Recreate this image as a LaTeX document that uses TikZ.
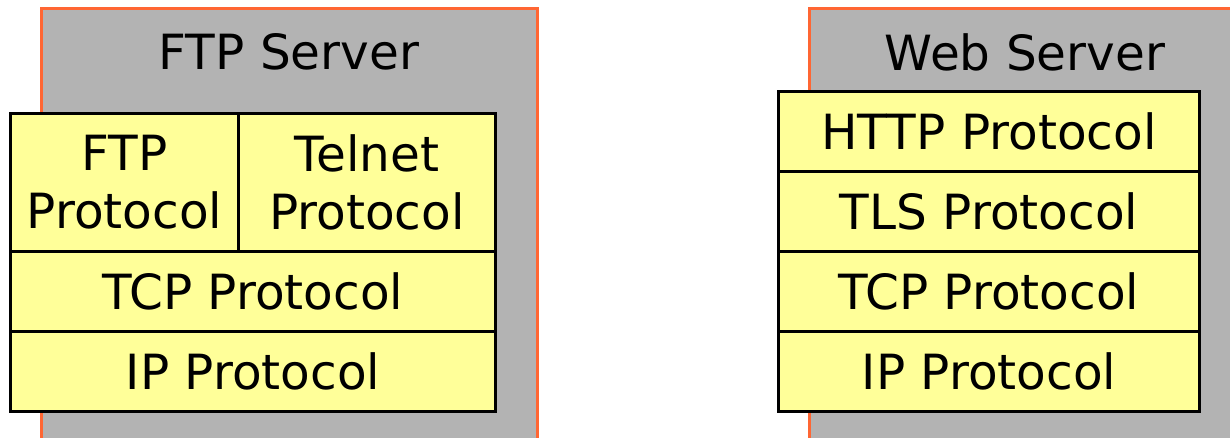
\documentclass[tikz,border=0pt]{standalone}
\usepackage{fontspec}
\setmainfont{DejaVu Sans}
\definecolor{srvgray}{HTML}{B3B3B3}
\definecolor{srvorange}{HTML}{FF6633}
\definecolor{protoyellow}{HTML}{FFFF99}
\begin{document}
\begin{tikzpicture}[x=1pt,y=-1pt,
  server/.style={fill=srvgray,draw=srvorange,line width=3pt},
  proto/.style={draw=black,fill=protoyellow,line width=3pt,anchor=north west,inner sep=0pt,align=center,
    font=\fontsize{48.5}{58}\selectfont},
  title/.style={font=\fontsize{48.5}{58}\selectfont,inner sep=0pt}]
\useasboundingbox (0,0) rectangle (1230,438);
\clip (0,0) rectangle (1230,438);
% gray server boxes
\path[server] (41,460) -- (41,9) -- (537,9) -- (537,460);
\path[server] (809,460) -- (809,9) -- (1250,9) -- (1250,460);
\node[title] (ftpserver) at (289,52) {FTP Server};
\node[title] (webserver) at (1025,52) {Web Server};
% FTP stack
\node[proto,minimum width=228pt,minimum height=138pt] (ftp) at (9,112) {FTP\\Protocol};
\node[proto,minimum width=257pt,minimum height=138pt] (telnet) at (237,112) {Telnet\\Protocol};
\node[proto,minimum width=485pt,minimum height=80pt] (tcpa) at (9,250) {TCP Protocol};
\node[proto,minimum width=485pt,minimum height=80pt] (ipa) at (9,330) {IP Protocol};
% Web stack
\node[proto,minimum width=421pt,minimum height=80pt] (http) at (777,90) {HTTP Protocol};
\node[proto,minimum width=421pt,minimum height=80pt] (tls) at (777,170) {TLS Protocol};
\node[proto,minimum width=421pt,minimum height=80pt] (tcpb) at (777,250) {TCP Protocol};
\node[proto,minimum width=421pt,minimum height=80pt] (ipb) at (777,330) {IP Protocol};
\end{tikzpicture}
\end{document}
